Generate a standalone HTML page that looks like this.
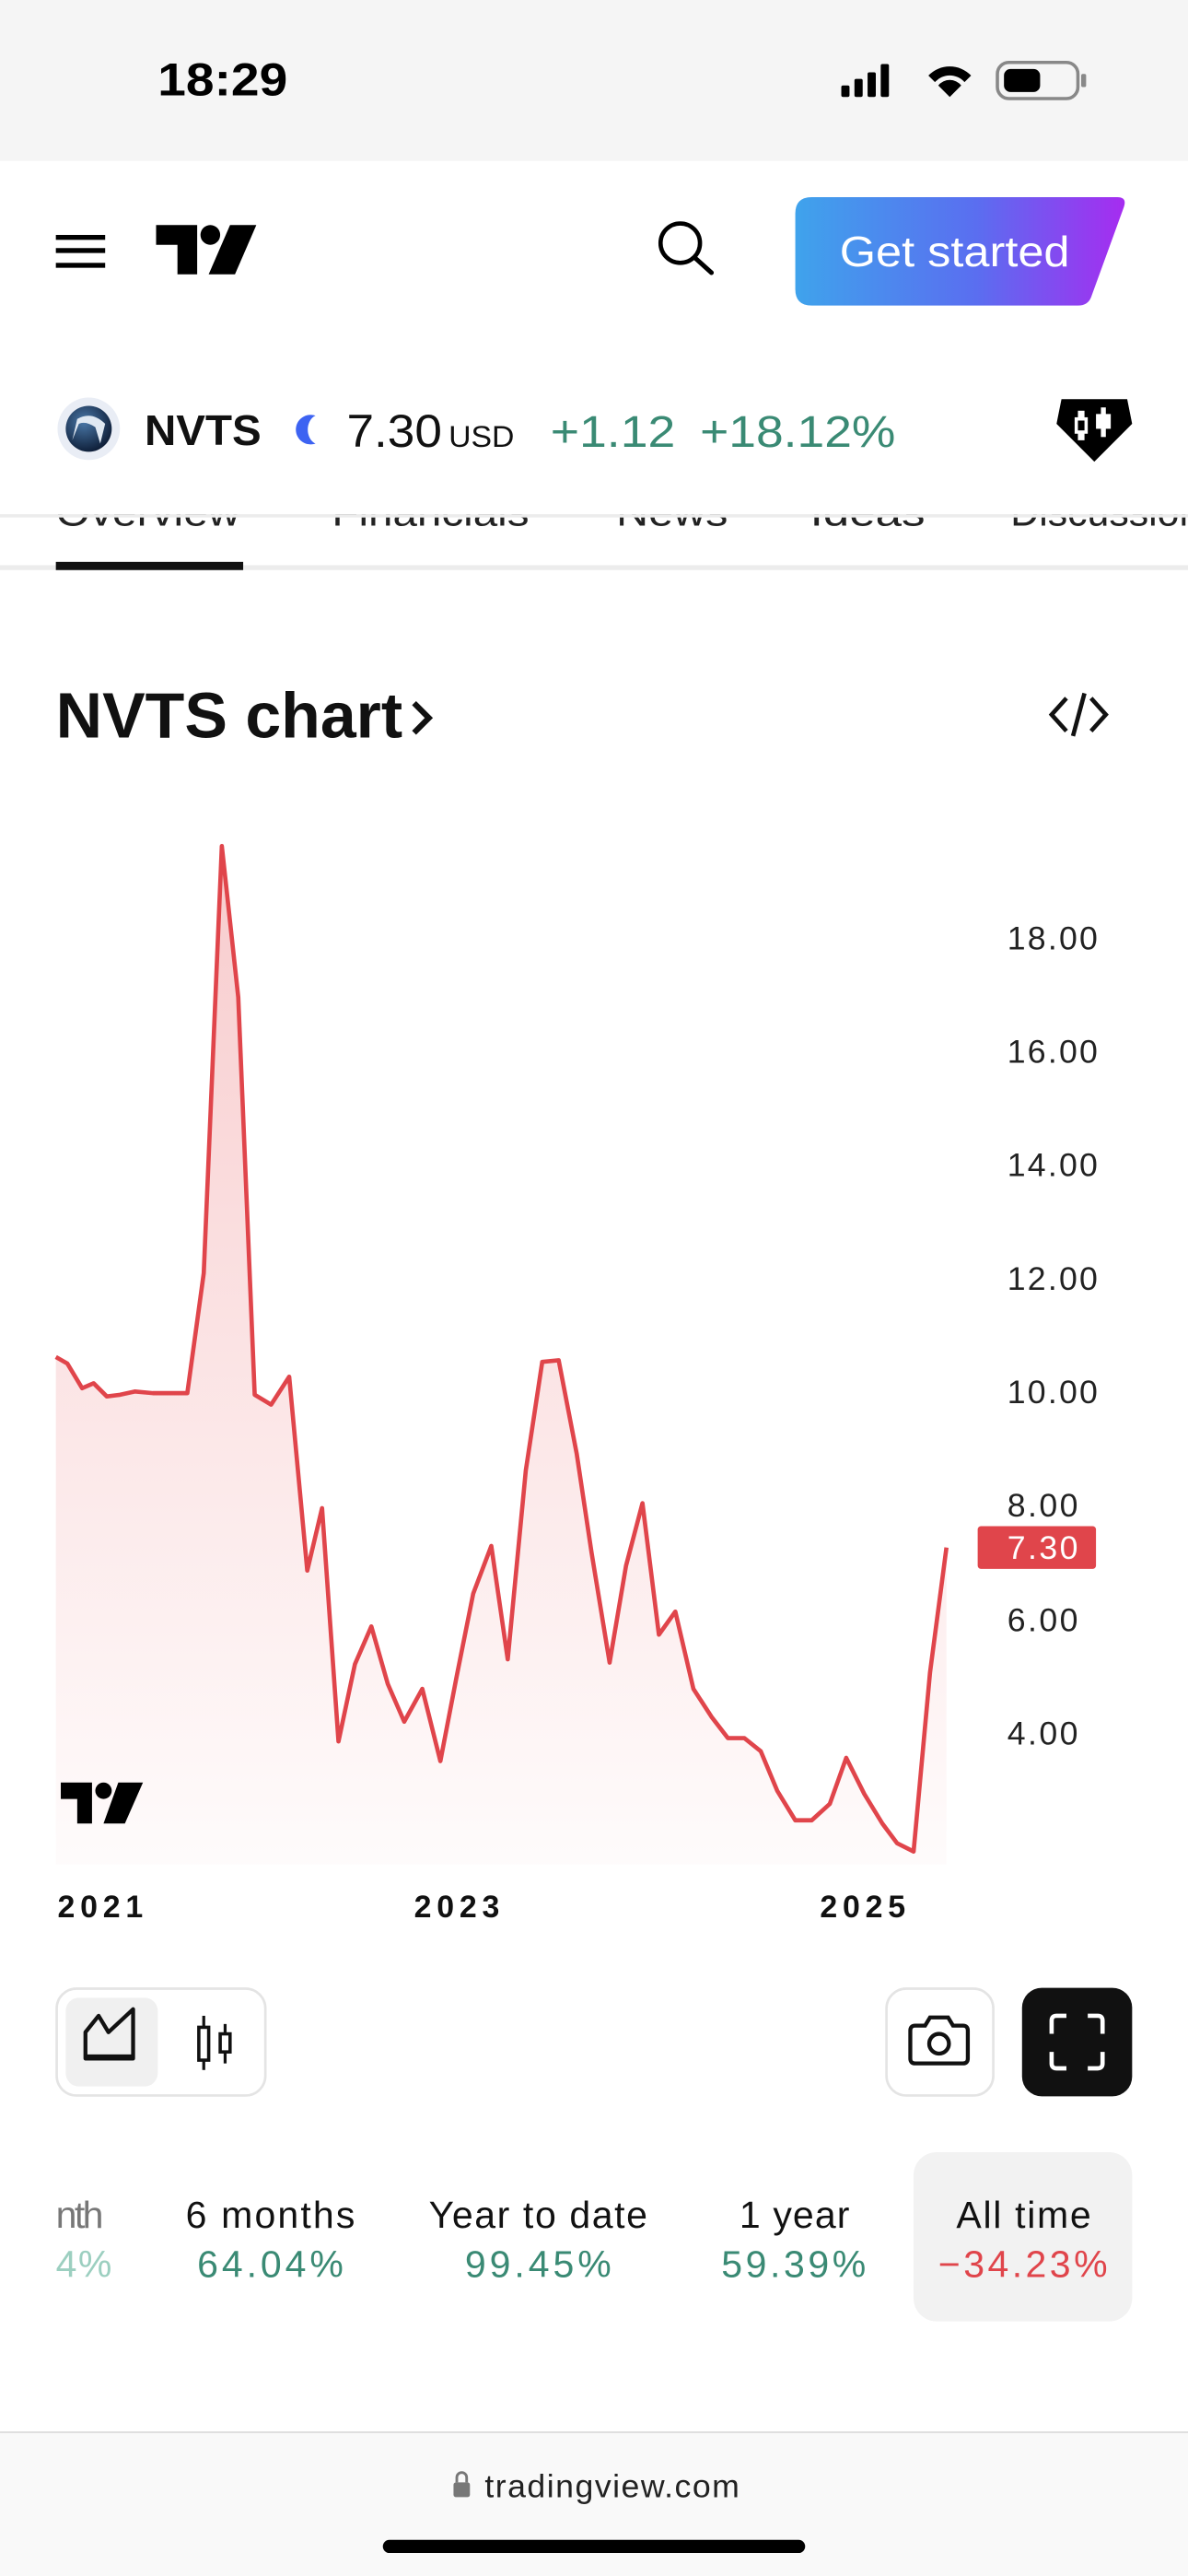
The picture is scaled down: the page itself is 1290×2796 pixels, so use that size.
<!DOCTYPE html>
<html><head><meta charset="utf-8"><style>
html,body{margin:0;padding:0;background:#fff;width:1290px;height:2796px;overflow:hidden}
svg{display:block}
text{font-family:"Liberation Sans",sans-serif}
</style></head><body>
<svg width="1290" height="2796" viewBox="0 0 723 1568" xmlns="http://www.w3.org/2000/svg" preserveAspectRatio="none">
<defs>
<linearGradient id="btn" x1="0" x2="1" y1="0" y2="0"><stop offset="0" stop-color="#3fa3ec"/><stop offset="0.55" stop-color="#5a6ef0"/><stop offset="1" stop-color="#a62cf0"/></linearGradient>
<linearGradient id="fill" x1="0" x2="0" y1="0" y2="1"><stop offset="0" stop-color="#e5484d" stop-opacity="0.28"/><stop offset="1" stop-color="#e5484d" stop-opacity="0.02"/></linearGradient>
<radialGradient id="lg" cx="0.4" cy="0.35" r="0.7"><stop offset="0" stop-color="#4a78a8"/><stop offset="1" stop-color="#0b1a33"/></radialGradient>
</defs>
<rect x="0" y="0" width="723" height="98" fill="#f5f5f5"/>
<text x="96" y="58" font-size="28" font-weight="bold" fill="#000" textLength="79" lengthAdjust="spacingAndGlyphs">18:29</text>
<rect x="512" y="52" width="5" height="7" rx="1" fill="#000"/><rect x="520" y="48" width="5" height="11" rx="1" fill="#000"/><rect x="528" y="44" width="5" height="15" rx="1" fill="#000"/><rect x="536" y="39" width="5" height="20" rx="1" fill="#000"/>
<path d="M565 46 A18 18 0 0 1 591 46 L587 50 A12 12 0 0 0 569 50 Z M571 52 A9 9 0 0 1 585 52 L578 59 Z" fill="#000"/>
<rect x="607" y="38" width="49" height="22" rx="7" fill="none" stroke="#888" stroke-width="2"/><rect x="611" y="42" width="22" height="14" rx="4" fill="#000"/><rect x="658" y="45" width="3" height="8" rx="1" fill="#888"/>
<rect x="34" y="143" width="30" height="3" fill="#000"/><rect x="34" y="151" width="30" height="3" fill="#000"/><rect x="34" y="160" width="30" height="3" fill="#000"/>
<path d="M95 137 H120 V167 H108 V149 H95 Z" fill="#000"/><circle cx="128" cy="143" r="6" fill="#000"/><path d="M140 137 H156 L143 167 H127 Z" fill="#000"/>
<circle cx="414" cy="148" r="12" fill="none" stroke="#000" stroke-width="2.6"/><line x1="423" y1="157" x2="433" y2="166" stroke="#000" stroke-width="2.8" stroke-linecap="round"/>
<path d="M494 120 H680 Q686 120 684 126 L664 181 Q662 186 656 186 H494 Q484 186 484 176 V130 Q484 120 494 120 Z" fill="url(#btn)"/>
<text x="511" y="162" font-size="26" fill="#fff" textLength="140" lengthAdjust="spacingAndGlyphs">Get started</text>
<circle cx="54" cy="261" r="19" fill="#e9edf5"/><circle cx="54" cy="261" r="14" fill="url(#lg)"/><path d="M44 268 L47 255 Q56 250 64 258 L61 270 L58 260 Q52 256 48 258 Z" fill="#dfe8f2"/>
<text x="88" y="271" font-size="26" font-weight="bold" fill="#111" textLength="71" lengthAdjust="spacingAndGlyphs">NVTS</text>
<path d="M192 253 A9 9 0 1 0 192 270 A7 9 0 0 1 192 253 Z" fill="#3d63f2"/>
<text x="211" y="272" font-size="28" fill="#111" textLength="58" lengthAdjust="spacingAndGlyphs">7.30</text>
<text x="273" y="272" font-size="18" fill="#111" textLength="40" lengthAdjust="spacingAndGlyphs">USD</text>
<text x="335" y="272" font-size="27" fill="#3a8a74" textLength="76" lengthAdjust="spacingAndGlyphs">+1.12</text>
<text x="426" y="272" font-size="27" fill="#3a8a74" textLength="119" lengthAdjust="spacingAndGlyphs">+18.12%</text>
<path d="M646 243 H686 L689 258 L666 281 L643 258 Z" fill="#000"/><rect x="656" y="250" width="4" height="18" fill="#fff"/><rect x="654" y="254" width="8" height="10" fill="#fff"/><rect x="656" y="256" width="4" height="6" fill="#000"/><rect x="670" y="248" width="3" height="18" fill="#fff"/><rect x="667" y="252" width="9" height="9" fill="#fff"/>
<g font-size="24" fill="#222">
<text x="34" y="320" textLength="112" lengthAdjust="spacingAndGlyphs">Overview</text><text x="202" y="320" textLength="120" lengthAdjust="spacingAndGlyphs">Financials</text><text x="375" y="320" textLength="68" lengthAdjust="spacingAndGlyphs">News</text><text x="493" y="320" textLength="70" lengthAdjust="spacingAndGlyphs">Ideas</text><text x="615" y="320">Discussions</text>
</g>
<rect x="0" y="298" width="723" height="15" fill="#fff"/>
<rect x="0" y="313" width="723" height="2" fill="#ececec"/>
<rect x="0" y="344" width="723" height="3" fill="#ececec"/>
<rect x="34" y="342" width="114" height="5" fill="#111"/>
<text x="34" y="449" font-size="39" font-weight="bold" fill="#111" textLength="211" lengthAdjust="spacingAndGlyphs">NVTS chart</text>
<path d="M252 428 L261 437 L252 446" fill="none" stroke="#111" stroke-width="3.5"/>
<path d="M649 425 L640 435 L649 445 M664 425 L673 435 L664 445 M660 422 L653 448" fill="none" stroke="#111" stroke-width="2.6"/>
<g font-size="20" fill="#222">
<text x="613" y="578" textLength="55">18.00</text><text x="613" y="647" textLength="55">16.00</text><text x="613" y="716" textLength="55">14.00</text><text x="613" y="785" textLength="55">12.00</text><text x="613" y="854" textLength="55">10.00</text><text x="613" y="923" textLength="43">8.00</text><text x="613" y="993" textLength="43">6.00</text><text x="613" y="1062" textLength="43">4.00</text>
</g>
<path d="M34 826 L41 830 L50 845 L57 842 L65 850 L73 849 L82 847 L93 848 L104 848 L114 848 L124 775 L135 515 L145 607 L155 849 L165 855 L176 838 L187 956 L196 918 L206 1060 L216 1013 L226 990 L236 1025 L246 1048 L257 1028 L268 1072 L278 1020 L288 970 L299 941 L309 1010 L320 895 L330 829 L340 828 L351 885 L360 945 L371 1012 L381 953 L391 915 L401 995 L411 981 L422 1028 L433 1045 L443 1058 L453 1058 L463 1066 L473 1090 L484 1108 L494 1108 L505 1098 L515 1070 L526 1092 L537 1110 L546 1122 L556 1127 L566 1018 L576 942 L576 1135 L34 1135 Z" fill="url(#fill)"/>
<path d="M34 826 L41 830 L50 845 L57 842 L65 850 L73 849 L82 847 L93 848 L104 848 L114 848 L124 775 L135 515 L145 607 L155 849 L165 855 L176 838 L187 956 L196 918 L206 1060 L216 1013 L226 990 L236 1025 L246 1048 L257 1028 L268 1072 L278 1020 L288 970 L299 941 L309 1010 L320 895 L330 829 L340 828 L351 885 L360 945 L371 1012 L381 953 L391 915 L401 995 L411 981 L422 1028 L433 1045 L443 1058 L453 1058 L463 1066 L473 1090 L484 1108 L494 1108 L505 1098 L515 1070 L526 1092 L537 1110 L546 1122 L556 1127 L566 1018 L576 942" fill="none" stroke="#e0454b" stroke-width="2.6" stroke-linejoin="round"/>
<rect x="595" y="929" width="72" height="26" rx="2" fill="#e0454b"/>
<text x="613" y="949" font-size="20" fill="#fff" textLength="43">7.30</text>
<path d="M37 1085 H56 V1110 H47 V1095 H37 Z" fill="#000"/><circle cx="63" cy="1090" r="5" fill="#000"/><path d="M72 1085 H87 L76 1110 H63 Z" fill="#000"/>
<g font-size="19" font-weight="bold" fill="#111">
<text x="35" y="1167" textLength="52">2021</text><text x="252" y="1167" textLength="52">2023</text><text x="499" y="1167" textLength="52">2025</text>
</g>
<rect x="34.5" y="1210.5" width="127" height="65" rx="12" fill="#fff" stroke="#e4e4e4" stroke-width="1.5"/>
<rect x="40" y="1216" width="56" height="54" rx="8" fill="#f0f0f0"/>
<path d="M52 1253 V1237 L60 1227 L66 1237 L81 1223 V1253 Z" fill="none" stroke="#111" stroke-width="2.4" stroke-linejoin="round"/>
<line x1="52" y1="1252" x2="81" y2="1252" stroke="#111" stroke-width="3"/>
<line x1="124" y1="1227" x2="124" y2="1260" stroke="#111" stroke-width="1.8"/><rect x="121" y="1234" width="6" height="20" fill="#fff" stroke="#111" stroke-width="2"/>
<line x1="137" y1="1232" x2="137" y2="1256" stroke="#111" stroke-width="1.8"/><rect x="134" y="1238" width="6" height="11" fill="#fff" stroke="#111" stroke-width="2"/>
<rect x="539.5" y="1210.5" width="65" height="65" rx="12" fill="#fff" stroke="#e4e4e4" stroke-width="1.5"/>
<path d="M554 1236 Q554 1233 557 1233 H563 L566 1228 H577 L580 1233 H586 Q589 1233 589 1236 V1253 Q589 1256 586 1256 H557 Q554 1256 554 1253 Z" fill="none" stroke="#111" stroke-width="2.4"/>
<circle cx="571.5" cy="1244" r="6" fill="none" stroke="#111" stroke-width="2.4"/>
<rect x="622" y="1210" width="67" height="66" rx="12" fill="#111"/>
<path d="M640 1238 V1230 Q640 1227 643 1227 H649 M662 1227 H668 Q671 1227 671 1230 V1238 M671 1249 V1256 Q671 1259 668 1259 H662 M649 1259 H643 Q640 1259 640 1256 V1249" fill="none" stroke="#fff" stroke-width="2.6"/>
<rect x="556" y="1310" width="133" height="103" rx="14" fill="#f2f2f2"/>
<g font-size="23">
<text x="34" y="1356" fill="#777" textLength="29">nth</text>
<text x="113" y="1356" fill="#111" textLength="103">6 months</text>
<text x="261" y="1356" fill="#111" textLength="133">Year to date</text>
<text x="450" y="1356" fill="#111" textLength="67">1 year</text>
<text x="582" y="1356" fill="#111" textLength="82">All time</text>
<text x="34" y="1386" fill="#9ccfc0" textLength="34">4%</text>
<text x="120" y="1386" fill="#3a8a74" textLength="89">64.04%</text>
<text x="283" y="1386" fill="#3a8a74" textLength="89">99.45%</text>
<text x="439" y="1386" fill="#3a8a74" textLength="88">59.39%</text>
<text x="571" y="1386" fill="#e0454b" textLength="103">−34.23%</text>
</g>
<rect x="0" y="1480" width="723" height="88" fill="#f9f9f9"/>
<rect x="0" y="1480" width="723" height="1" fill="#dcdcdc"/>
<rect x="276" y="1511" width="10" height="9" rx="1.5" fill="#777"/><path d="M278 1511 V1508 A3 3 0 0 1 284 1508 V1511" fill="none" stroke="#777" stroke-width="1.6"/>
<text x="295" y="1520" font-size="20" fill="#222" textLength="155">tradingview.com</text>
<rect x="233" y="1546" width="257" height="8" rx="4" fill="#000"/>
</svg>
</body></html>
